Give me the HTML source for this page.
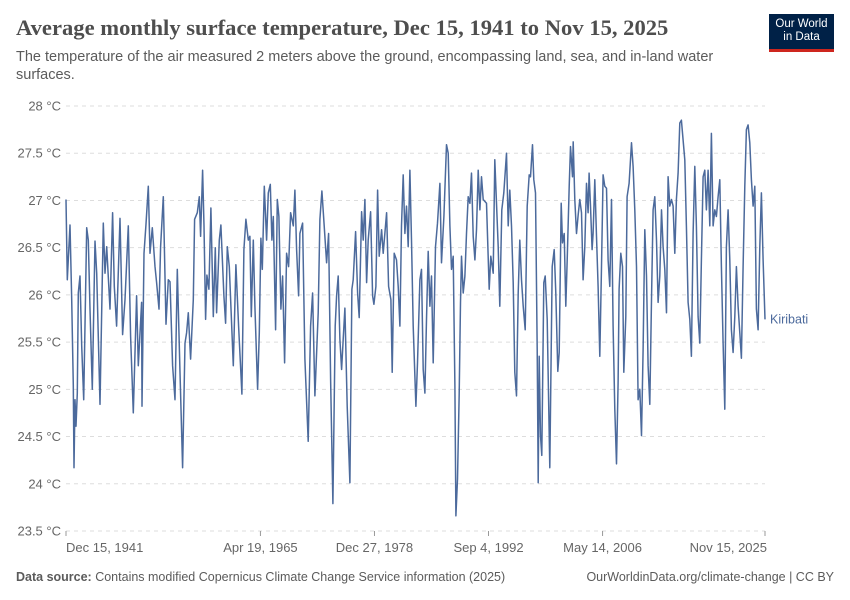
<!DOCTYPE html>
<html><head><meta charset="utf-8">
<style>
body{margin:0;background:#fff;font-family:"Liberation Sans",sans-serif;}
#wrap{position:relative;width:850px;height:600px;overflow:hidden;}
.title{position:absolute;left:16px;top:15px;font-family:"Liberation Serif",serif;font-size:22.6px;color:#4e4e4e;font-weight:bold;white-space:nowrap;}
.sub{position:absolute;left:16px;top:48px;width:730px;font-size:14.5px;color:#5b5b5b;line-height:18px;}
.logo{position:absolute;left:769px;top:14px;width:65px;height:38px;background:#002147;color:#fff;font-size:11.5px;text-align:center;line-height:13px;padding-top:4px;box-sizing:border-box;border-bottom:3px solid #ce261e;}
.foot{position:absolute;top:570px;font-size:12.5px;color:#5b5b5b;}
</style></head><body>
<div id="wrap">
<div class="title">Average monthly surface temperature, Dec 15, 1941 to Nov 15, 2025</div>
<div class="sub">The temperature of the air measured 2 meters above the ground, encompassing land, sea, and in-land water surfaces.</div>
<div class="logo">Our World<br>in Data</div>
<svg id="chart" width="850" height="600" style="position:absolute;left:0;top:0"></svg>
<div class="foot" style="left:16px"><b>Data source:</b> Contains modified Copernicus Climate Change Service information (2025)</div>
<div class="foot" style="right:16px">OurWorldinData.org/climate-change | CC BY</div>
</div>
<script>
const yTicks=[23.5,24,24.5,25,25.5,26,26.5,27,27.5,28];
const xTickDates=[1941.96,1965.30,1978.99,1992.68,2006.37,2025.87];
const xTickLabels=["Dec 15, 1941","Apr 19, 1965","Dec 27, 1978","Sep 4, 1992","May 14, 2006","Nov 15, 2025"];
const years=[1941.96,1942.12,1942.44,1942.64,1942.84,1942.92,1943.04,1943.16,1943.32,1943.44,1943.64,1943.84,1944.08,1944.44,1944.64,1944.84,1945.12,1945.44,1945.64,1946.04,1946.44,1946.64,1946.84,1947.24,1947.56,1947.76,1948.04,1948.44,1948.76,1949.04,1949.44,1949.72,1950.04,1950.44,1950.64,1951.04,1951.08,1951.32,1951.56,1951.84,1952.04,1952.32,1952.64,1952.84,1953.12,1953.32,1953.64,1953.96,1954.24,1954.44,1954.76,1955.04,1955.32,1955.64,1955.96,1956.24,1956.44,1956.64,1956.92,1957.24,1957.40,1957.72,1957.96,1958.12,1958.36,1958.52,1958.72,1958.88,1959.12,1959.36,1959.64,1959.88,1960.04,1960.36,1960.56,1960.92,1961.12,1961.32,1961.56,1962.04,1962.36,1962.68,1963.08,1963.32,1963.56,1963.84,1964.04,1964.20,1964.44,1964.64,1964.96,1965.16,1965.36,1965.52,1965.76,1966.04,1966.24,1966.48,1966.68,1966.84,1967.12,1967.32,1967.52,1967.76,1967.96,1968.20,1968.44,1968.68,1968.92,1969.24,1969.44,1969.64,1969.88,1970.04,
1970.36,1970.64,1971.04,1971.32,1971.56,1971.84,1972.24,1972.44,1972.68,1972.96,1973.24,1973.48,1973.72,1974.00,1974.28,1974.44,1974.64,1974.84,1975.04,1975.24,1975.44,1975.72,1976.04,1976.28,1976.44,1976.72,1976.96,1977.16,1977.44,1977.64,1977.84,1978.04,1978.24,1978.52,1978.76,1978.92,1979.16,1979.36,1979.56,1979.84,1980.04,1980.44,1980.68,1980.96,1981.12,1981.36,1981.64,1981.84,1982.04,1982.24,1982.44,1982.64,1982.84,1983.04,1983.24,1983.44,1983.64,1983.96,1984.16,1984.44,1984.64,1984.84,1985.04,1985.24,1985.44,1985.64,1985.84,1986.04,1986.32,1986.56,1986.84,1987.04,1987.32,1987.64,1987.84,1988.04,1988.24,1988.44,1988.64,1988.76,1988.96,1989.16,1989.32,1989.44,1989.64,1989.84,1990.04,1990.24,1990.44,1990.64,1990.84,1991.04,1991.24,1991.44,1991.64,1991.84,1992.04,1992.44,1992.76,1992.96,1993.24,1993.44,1993.64,1993.84,1994.04,1994.28,1994.52,1994.84,1995.04,1995.24,1995.44,1995.64,1995.84,1996.04,1996.24,1996.44,1996.64,1996.84,1997.08,1997.32,1997.56,
1997.72,1997.96,1998.12,1998.32,1998.52,1998.64,1998.76,1998.92,1999.08,1999.32,1999.48,1999.72,2000.04,2000.32,2000.56,2000.76,2001.00,2001.16,2001.40,2001.56,2001.76,2001.96,2002.12,2002.36,2002.52,2002.76,2002.84,2003.04,2003.24,2003.44,2003.64,2003.84,2004.04,2004.24,2004.44,2004.64,2004.76,2004.92,2005.12,2005.24,2005.44,2005.64,2005.84,2006.04,2006.24,2006.44,2006.64,2006.84,2007.04,2007.24,2007.44,2007.64,2007.84,2008.04,2008.24,2008.36,2008.56,2008.76,2008.92,2009.16,2009.32,2009.56,2009.84,2010.04,2010.24,2010.44,2010.64,2010.84,2011.04,2011.24,2011.44,2011.64,2011.84,2012.04,2012.24,2012.44,2012.64,2012.84,2013.04,2013.24,2013.44,2013.64,2013.84,2014.04,2014.24,2014.44,2014.64,2014.84,2015.04,2015.24,2015.44,2015.64,2015.84,2016.04,2016.24,2016.44,2016.64,2016.84,2017.04,2017.24,2017.44,2017.64,2017.84,2018.04,2018.24,2018.44,2018.64,2018.84,2019.04,2019.24,2019.44,2019.64,2019.84,2020.04,2020.24,2020.44,2020.64,2020.84,2021.04,2021.24,2021.44,2021.64,2021.84,2022.04,2022.24,2022.44,2022.64,2022.84,2023.04,2023.24,2023.44,2023.64,2023.84,2024.04,2024.24,2024.44,2024.64,2024.84,2025.04,2025.24,2025.44,2025.64,2025.87];
const temps=[27.01,26.16,26.74,25.95,25.04,24.17,24.89,24.61,24.96,26.02,26.20,25.46,24.89,26.71,26.58,25.85,25.00,26.57,26.23,24.84,26.76,26.23,26.51,25.85,26.87,26.09,25.67,26.81,25.58,25.95,26.73,25.56,24.75,25.99,25.25,25.92,24.82,26.44,26.75,27.15,26.44,26.71,26.30,26.13,25.85,26.51,27.04,25.69,26.16,26.14,25.25,24.89,26.27,25.18,24.17,25.49,25.60,25.81,25.32,25.95,26.80,26.87,27.04,26.62,27.32,26.73,25.74,26.21,26.06,26.92,25.77,26.50,25.81,26.58,26.74,25.99,25.70,26.51,26.30,25.25,26.32,25.67,24.95,26.48,26.80,26.58,26.62,25.77,26.58,25.88,25.00,25.60,26.60,26.27,27.15,26.58,27.08,27.17,26.58,26.83,25.63,27.01,26.83,25.85,26.20,25.28,26.44,26.30,26.87,26.73,27.11,26.48,25.99,26.65,
26.76,25.32,24.45,25.67,26.02,24.93,25.81,26.80,27.10,26.73,26.34,26.65,25.11,23.79,25.67,25.99,26.20,25.53,25.21,25.53,25.86,24.82,24.01,26.06,26.16,26.67,26.02,25.76,26.88,26.58,27.01,26.13,26.58,26.88,25.99,25.90,26.09,27.11,26.41,26.69,26.44,26.87,26.09,25.95,25.18,26.44,26.37,26.09,25.67,26.73,27.27,26.65,26.94,26.51,27.32,26.58,25.67,24.82,25.28,26.16,26.27,25.21,24.96,25.74,26.46,25.88,26.20,25.28,26.51,26.76,27.18,26.34,26.83,27.59,27.50,26.73,26.27,26.41,25.04,23.66,24.05,24.96,25.92,26.41,26.02,26.20,26.65,27.04,26.97,27.29,26.62,26.37,26.69,27.32,26.90,27.25,27.01,26.97,26.06,26.41,26.23,27.43,26.97,26.51,25.88,26.90,27.08,27.50,26.73,27.11,26.73,26.13,25.18,24.93,26.02,26.58,26.16,25.88,25.63,26.94,27.27,
27.25,27.59,27.22,27.08,25.42,24.01,25.35,24.51,24.30,26.13,26.20,25.74,24.17,26.30,26.48,26.02,25.19,25.39,26.97,26.55,26.65,25.88,26.37,27.15,27.57,27.25,27.62,27.01,26.65,26.85,27.01,26.87,26.16,26.51,27.18,26.87,27.29,26.94,26.48,26.65,27.22,26.62,26.09,25.35,26.30,27.27,27.15,27.13,26.37,26.09,27.01,25.67,24.79,24.21,25.07,26.06,26.44,26.30,25.18,25.77,27.04,27.18,27.61,27.36,26.90,26.30,24.89,25.00,24.51,25.42,26.69,26.20,25.25,24.84,25.95,26.90,27.04,26.58,25.92,26.20,26.90,26.51,26.27,25.81,27.25,26.94,27.01,26.94,26.44,27.01,27.29,27.82,27.85,27.64,27.43,26.73,25.92,25.74,25.35,26.65,27.36,26.73,25.77,25.49,26.37,27.25,27.32,26.90,27.32,26.73,27.71,26.73,26.90,26.83,27.04,27.22,26.30,25.49,24.79,26.51,26.90,26.37,25.63,25.39,25.77,26.30,25.88,25.60,25.33,26.30,27.15,27.75,27.80,27.61,27.22,26.94,27.15,25.85,25.63,26.51,27.08,26.37,25.74];
const seriesName="Kiribati";

const svg=document.getElementById('chart');
const NS="http://www.w3.org/2000/svg";
const X0=66,X1=765,Y0=531,Y1=106;
const xMin=1941.96,xMax=2025.87,yMin=23.5,yMax=28;
function xs(v){return X0+(v-xMin)/(xMax-xMin)*(X1-X0);}
function ys(v){return Y0-(v-yMin)/(yMax-yMin)*(Y0-Y1);}
function mk(tag,attrs){const e=document.createElementNS(NS,tag);for(const k in attrs)e.setAttribute(k,attrs[k]);svg.appendChild(e);return e;}
yTicks.forEach((t,i)=>{
  const g=mk('line',{x1:X0,x2:X1,y1:ys(t),y2:ys(t),stroke:'#dddddd','stroke-dasharray':'4,4'});
  
  
  const tx=mk('text',{x:61,y:ys(t)+4.5,'text-anchor':'end','font-size':'13',fill:'#666','font-family':'Liberation Sans, sans-serif'});
  tx.textContent=(String(t))+' °C';
  
  
});
xTickDates.forEach((d,i)=>{
  const x=xs(d);
  const tk=mk('line',{x1:x,x2:x,y1:Y0,y2:Y0+5,stroke:'#999'});
  
  
  const anchor=i===0?'start':(i===xTickDates.length-1?'end':'middle');
  const tx=mk('text',{x:i===0?x:(i===xTickDates.length-1?x+2:x),y:552,'text-anchor':anchor,'font-size':'13',fill:'#666','font-family':'Liberation Sans, sans-serif'});
  tx.textContent=xTickLabels[i];
  
  
});
let d='';
years.forEach((yr,i)=>{d+=(i?'L':'M')+xs(yr).toFixed(1)+','+ys(temps[i]).toFixed(1);});
const path=mk('path',{d:d,fill:'none',stroke:'#4c6a9c','stroke-width':'1.5','stroke-linejoin':'round'});


const lab=mk('text',{x:X1+5,y:ys(temps[temps.length-1])+4,'font-size':'12.5',fill:'#4c6a9c','font-family':'Liberation Sans, sans-serif'});
lab.textContent=seriesName;


</script>
</body></html>
